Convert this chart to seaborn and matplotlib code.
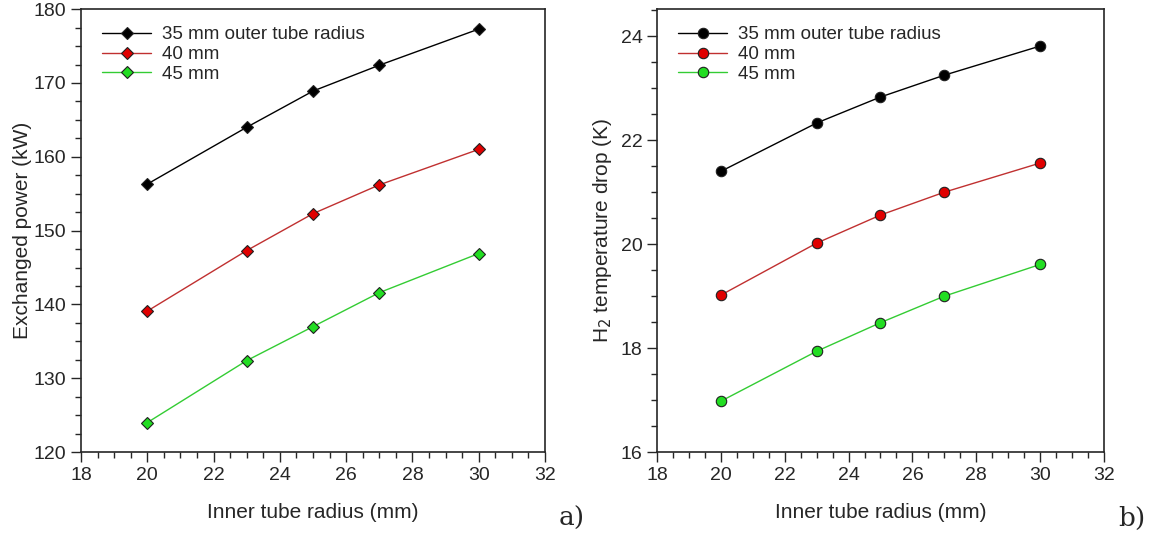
import matplotlib
matplotlib.use("Agg")
import matplotlib.pyplot as plt
import seaborn as sns
import pandas as pd
from matplotlib.ticker import MultipleLocator

sns.set_theme(style="ticks")
plt.rcParams['font.family'] = ['Liberation Sans', 'DejaVu Sans']

inner_radius = [20, 23, 25, 27, 30]
series_names = ["35 mm outer tube radius", "40 mm", "45 mm"]
power_35 = [156.3, 164.0, 168.9, 172.4, 177.3]
power_40 = [139.1, 147.3, 152.3, 156.2, 161.0]
power_45 = [124.0, 132.4, 137.0, 141.6, 146.9]
drop_35 = [21.40, 22.33, 22.83, 23.25, 23.81]
drop_40 = [19.02, 20.02, 20.56, 21.00, 21.56]
drop_45 = [16.98, 17.94, 18.49, 19.00, 19.61]
colors = ["#000000", "#e00000", "#22dd22"]
line_colors = ["#000000", "#c03030", "#33cc33"]

def make_df(vals):
    rows = []
    for name, v in zip(series_names, vals):
        for x, y in zip(inner_radius, v):
            rows.append({"x": x, "y": y, "series": name})
    return pd.DataFrame(rows)

df_a = make_df([power_35, power_40, power_45])
df_b = make_df([drop_35, drop_40, drop_45])

fig = plt.figure(figsize=(11.5, 5.37), dpi=100)
ax1 = fig.add_axes([0.0704, 0.158, 0.4035, 0.825])
ax2 = fig.add_axes([0.5713, 0.158, 0.3887, 0.825])

def draw(ax, df, marker, ms):
    for name, c, lc in zip(series_names, colors, line_colors):
        sub = df[df.series == name]
        sns.lineplot(data=sub, x="x", y="y", ax=ax, color=lc, lw=1.0,
                     marker=marker, markersize=ms, markerfacecolor=c,
                     markeredgecolor="#202020", markeredgewidth=0.8, label=name)
    ax.set_xlim(18, 32)
    ax.xaxis.set_major_locator(MultipleLocator(2))
    ax.xaxis.set_minor_locator(MultipleLocator(0.5))
    ax.tick_params(which="both", direction="out", labelsize=14, width=1)
    ax.tick_params(which="major", length=7)
    ax.tick_params(which="minor", length=4)
    for s in ax.spines.values():
        s.set_linewidth(1.2)
    ax.set_xlabel("Inner tube radius (mm)", fontsize=15, labelpad=14)
    ax.legend(loc="upper left", frameon=False, fontsize=13.5,
              handlelength=2.6, handletextpad=0.6, borderaxespad=0.5,
              labelspacing=0.15, bbox_to_anchor=(0.01, 1.0))

draw(ax1, df_a, "D", 6.5)
ax1.set_ylim(120, 180)
ax1.yaxis.set_major_locator(MultipleLocator(10))
ax1.yaxis.set_minor_locator(MultipleLocator(2.5))
ax1.set_ylabel("Exchanged power (kW)", fontsize=15, labelpad=1)

draw(ax2, df_b, "o", 7.5)
ax2.set_ylim(16, 24.52)
ax2.yaxis.set_major_locator(MultipleLocator(2))
ax2.yaxis.set_minor_locator(MultipleLocator(0.5))
ax2.set_ylabel("H$_2$ temperature drop (K)", fontsize=15, labelpad=5)

fig.text(0.497, 0.02, "a)", fontsize=19, family="DejaVu Serif", ha="center")
fig.text(0.984, 0.02, "b)", fontsize=19, family="DejaVu Serif", ha="center")

fig.savefig("out.png", dpi=100)
